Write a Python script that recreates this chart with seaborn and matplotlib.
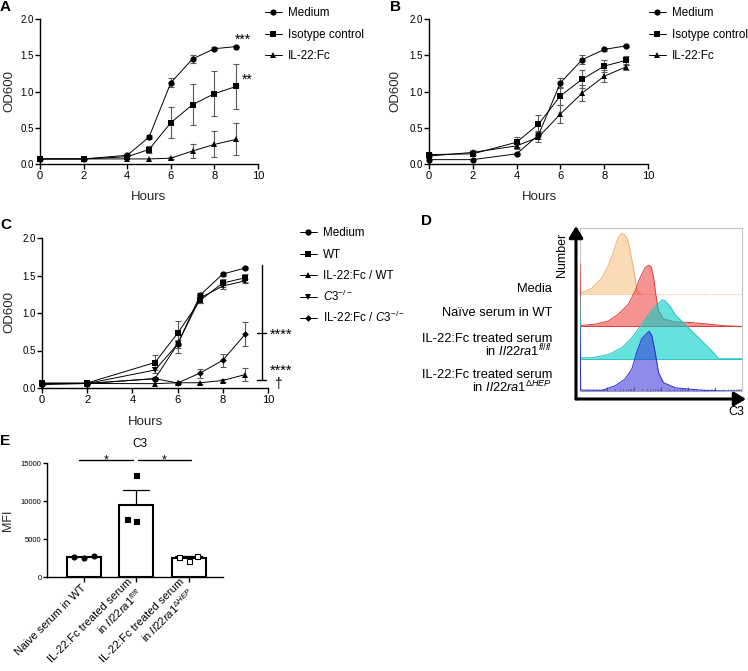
import numpy as np
import pandas as pd
import matplotlib
matplotlib.use("Agg")
import matplotlib.pyplot as plt
import matplotlib.transforms as mtransforms
from matplotlib.lines import Line2D
from matplotlib.patches import FancyArrowPatch
from matplotlib.ticker import FormatStrFormatter, FixedLocator
import seaborn as sns

W, H = 748, 671

# --- A / B: growth curves, mean and SEM ---
HOURS_AB = [0, 2, 4, 5, 6, 7, 8, 9]
AB_GROUPS = ["Medium", "Isotype control", "IL-22:Fc"]

A_MEDIUM = [0.07, 0.07, 0.12, 0.37, 1.12, 1.45, 1.59, 1.62]
A_MEDIUM_SEM = [0, 0, 0.01, 0.03, 0.06, 0.06, 0.02, 0.01]
A_ISOTYPE = [0.07, 0.07, 0.10, 0.20, 0.57, 0.82, 0.97, 1.07]
A_ISOTYPE_SEM = [0, 0, 0.02, 0.05, 0.21, 0.28, 0.31, 0.31]
A_IL22 = [0.07, 0.07, 0.07, 0.07, 0.08, 0.18, 0.27, 0.34]
A_IL22_SEM = [0, 0, 0, 0, 0.01, 0.10, 0.18, 0.22]

B_MEDIUM = [0.06, 0.06, 0.14, 0.40, 1.12, 1.44, 1.58, 1.63]
B_MEDIUM_SEM = [0, 0, 0.01, 0.05, 0.07, 0.06, 0.02, 0.01]
B_ISOTYPE = [0.13, 0.14, 0.30, 0.55, 0.94, 1.17, 1.35, 1.43]
B_ISOTYPE_SEM = [0.02, 0.02, 0.07, 0.12, 0.12, 0.12, 0.08, 0.06]
B_IL22 = [0.11, 0.16, 0.25, 0.37, 0.69, 0.98, 1.21, 1.34]
B_IL22_SEM = [0.01, 0.03, 0.04, 0.07, 0.12, 0.11, 0.08, 0.04]

# --- C ---
HOURS_C = [0, 2, 5, 6, 7, 8, 9]
C_GROUPS = ["Medium", "WT", "IL-22:Fc / WT", "C3-/-", "IL-22:Fc / C3-/-"]
C_LABELS = ["Medium", "WT", "IL-22:Fc / WT", r"$\mathit{C3}^{-/-}$", r"IL-22:Fc / $\mathit{C3}^{-/-}$"]
C_MEDIUM = [0.06, 0.06, 0.125, 0.585, 1.24, 1.52, 1.60]
C_MEDIUM_SEM = [0, 0, 0.01, 0.12, 0.03, 0.02, 0.01]
C_WT = [0.067, 0.067, 0.34, 0.73, 1.17, 1.40, 1.47]
C_WT_SEM = [0, 0, 0.10, 0.16, 0.03, 0.05, 0.05]
C_IL22_WT = [0.06, 0.06, 0.058, 0.07, 0.07, 0.10, 0.18]
C_IL22_WT_SEM = [0, 0, 0, 0.01, 0.01, 0.02, 0.09]
C_C3KO = [0.06, 0.06, 0.24, 0.585, 1.20, 1.36, 1.43]
C_C3KO_SEM = [0, 0, 0.04, 0.05, 0.07, 0.04, 0.03]
C_IL22_C3KO = [0.045, 0.06, 0.125, 0.067, 0.20, 0.37, 0.72]
C_IL22_C3KO_SEM = [0, 0, 0.02, 0.01, 0.06, 0.09, 0.16]
C_BRACKET = [1.64, 0.73, 0.11]

# --- D: offset C3 histograms (x as fraction of axis, height in lane units) ---
D_MEDIA_X = [0.0, 0.004, 0.072, 0.134, 0.175, 0.206, 0.237, 0.258, 0.278, 0.295, 0.309, 0.330, 0.346, 0.360, 0.380]
D_MEDIA_Y = [1.95, 0.03, 0.18, 0.49, 0.90, 1.31, 1.77, 1.88, 1.83, 1.67, 1.36, 0.80, 0.29, 0.03, 0.0]
D_NAIVE_X = [0.0, 0.004, 0.093, 0.175, 0.237, 0.299, 0.340, 0.371, 0.402, 0.423, 0.440, 0.454, 0.468,
             0.485, 0.515, 0.588, 0.690, 0.794, 0.897, 1.0]
D_NAIVE_Y = [1.95, 0.03, 0.07, 0.17, 0.38, 0.69, 1.10, 1.51, 1.82, 1.90, 1.84, 1.51, 0.99,
             0.48, 0.23, 0.14, 0.12, 0.07, 0.02, 0.0]
D_FLFL_X = [0.0, 0.004, 0.072, 0.175, 0.258, 0.320, 0.381, 0.423, 0.464, 0.495, 0.509, 0.526, 0.557,
            0.588, 0.649, 0.711, 0.773, 0.825, 0.856, 1.0]
D_FLFL_Y = [1.96, 0.03, 0.03, 0.13, 0.34, 0.65, 1.06, 1.36, 1.62, 1.77, 1.83, 1.79, 1.62,
            1.36, 1.06, 0.75, 0.44, 0.18, 0.0, 0.0]
D_DHEP_X = [0.0, 0.004, 0.134, 0.216, 0.278, 0.320, 0.350, 0.381, 0.412, 0.427, 0.443, 0.464, 0.485,
            0.515, 0.588, 0.690, 0.794, 1.0]
D_DHEP_Y = [1.98, 0.03, 0.02, 0.16, 0.37, 0.68, 1.20, 1.62, 1.78, 1.85, 1.72, 1.20, 0.57,
            0.26, 0.10, 0.05, 0.01, 0.0]

# --- E: C3 MFI, individual mice ---
E_GROUPS = ["naive_wt", "il22_flfl", "il22_dhep"]
E_NAIVE = [2500, 2750, 2600]
E_FLFL = [13400, 7350, 7600]
E_DHEP = [2150, 2750, 2650]
E_TICKS = ["Naive serum in WT",
           "IL-22:Fc treated serum\nin $\\mathit{Il22ra1}^{fl/fl}$",
           "IL-22:Fc treated serum\nin $\\mathit{Il22ra1}^{\\Delta HEP}$"]
E_SIG_LEVEL = 15400

sns.set_theme(style="ticks")
plt.rcParams["font.family"] = ["Liberation Sans", "DejaVu Sans"]
plt.rcParams.update({
    "mathtext.fontset": "custom",
    "mathtext.rm": "Liberation Sans",
    "mathtext.it": "Liberation Sans:italic",
    "mathtext.bf": "Liberation Sans:bold",
    "axes.linewidth": 1.0,
    "axes.edgecolor": "black",
    "xtick.color": "black", "ytick.color": "black", "text.color": "black",
    "xtick.major.width": 1.0, "ytick.major.width": 1.0,
    "xtick.major.size": 3.5, "ytick.major.size": 3.5,
    "xtick.major.pad": 1.5, "ytick.major.pad": 1.0,
})

fig = plt.figure(figsize=(W / 100, H / 100), dpi=100)
PX = mtransforms.Affine2D().scale(1 / W, -1 / H).translate(0, 1) + fig.transFigure


def px_axes(left, top, right, bottom):
    return fig.add_axes([left / W, 1 - bottom / H, (right - left) / W, (bottom - top) / H])


def place_labels(ax, xlab_xy, ylab_xy):
    ax.xaxis.set_label_coords(*xlab_xy, transform=PX)
    ax.yaxis.set_label_coords(*ylab_xy, transform=PX)
    ax.xaxis.label.set_va("center")
    ax.yaxis.label.set_va("center")


def key_legend(x0, rows, markers, labels, sizes):
    # GraphPad style key: short line with centred marker, then the label
    for yc, mk, lab, ms in zip(rows, markers, labels, sizes):
        fig.add_artist(Line2D([x0, x0 + 17], [yc, yc], transform=PX, color="black", lw=0.7))
        fig.add_artist(Line2D([x0 + 8.5], [yc], transform=PX, color="black", marker=mk, markersize=ms, mew=0))
        fig.text(x0 + 23, yc + 4.2, lab, transform=PX, ha="left", va="baseline", fontsize=8.4)


def growth_panel(box, hours, groups, means, sems, markers, sizes, xlab_xy, ylab_xy):
    ax = px_axes(*box)
    df = pd.DataFrame({"Hours": np.tile(hours, len(groups)),
                       "OD600": np.concatenate(means),
                       "group": np.repeat(groups, len(hours))})
    for mean, sem in zip(means, sems):
        h, m, s = np.array(hours), np.array(mean), np.array(sem)
        k = s > 0
        ax.errorbar(h[k], m[k], yerr=s[k], fmt="none", ecolor="#5a5a5a", elinewidth=0.8,
                    capsize=2.2, capthick=0.8, clip_on=False, zorder=2)
    sns.lineplot(data=df, x="Hours", y="OD600", hue="group", style="group",
                 hue_order=groups, style_order=groups, palette={g: "black" for g in groups},
                 markers=dict(zip(groups, markers)), dashes=False, errorbar=None,
                 markersize=4.5, markeredgewidth=0, linewidth=0.7, legend=False,
                 clip_on=False, zorder=3, ax=ax)
    for ln, ms in zip(ax.get_lines()[-len(groups):], sizes):
        ln.set_markersize(ms)
    ax.set(xlim=(0, 10), ylim=(0, 2), xticks=range(0, 11, 2), yticks=[0, 0.5, 1, 1.5, 2],
           xlabel="Hours", ylabel="OD600")
    ax.yaxis.set_major_formatter(FormatStrFormatter("%.1f"))
    ax.tick_params(axis="x", labelsize=8)
    ax.tick_params(axis="y", labelsize=7)
    ax.xaxis.label.set_size(9.5)
    ax.yaxis.label.set_size(9.5)
    place_labels(ax, xlab_xy, ylab_xy)
    sns.despine(ax=ax)
    return ax


AB_MARKERS = ["o", "s", "^"]
AB_SIZES = [4.5, 4.5, 4.5]

# A
ax_a = growth_panel((40, 19, 258, 164), HOURS_AB, AB_GROUPS,
                    [A_MEDIUM, A_ISOTYPE, A_IL22], [A_MEDIUM_SEM, A_ISOTYPE_SEM, A_IL22_SEM],
                    AB_MARKERS, AB_SIZES, (149, 197), (9, 91))
key_legend(265, [12, 33.5, 55], AB_MARKERS, AB_GROUPS, AB_SIZES)
ax_a.text(9.31, 1.66, "***", ha="center", va="baseline", fontsize=10)
ax_a.text(9.5, 1.10, "**", ha="center", va="baseline", fontsize=10)

# B
growth_panel((429, 19, 648, 164), HOURS_AB, AB_GROUPS,
             [B_MEDIUM, B_ISOTYPE, B_IL22], [B_MEDIUM_SEM, B_ISOTYPE_SEM, B_IL22_SEM],
             AB_MARKERS, AB_SIZES, (540, 197), (395, 91))
key_legend(649, [12, 33.5, 55], AB_MARKERS, AB_GROUPS, AB_SIZES)

# C
C_MARKERS = ["o", "s", "^", "v", "D"]
C_SIZES = [4.5, 4.5, 4.5, 4.5, 3.4]
ax_c = growth_panel((42, 238, 268, 388), HOURS_C, C_GROUPS,
                    [C_MEDIUM, C_WT, C_IL22_WT, C_C3KO, C_IL22_C3KO],
                    [C_MEDIUM_SEM, C_WT_SEM, C_IL22_WT_SEM, C_C3KO_SEM, C_IL22_C3KO_SEM],
                    C_MARKERS, C_SIZES, (146, 422), (9, 312))
key_legend(300, [232, 253.5, 275, 296.5, 318], C_MARKERS, C_LABELS, C_SIZES)
ax_c.plot([9.72, 9.72], [C_BRACKET[0], C_BRACKET[2]], color="black", lw=1.0, clip_on=False)
for lvl in C_BRACKET[1:]:
    ax_c.plot([9.5, 9.92], [lvl, lvl], color="black", lw=1.0, clip_on=False)
ax_c.text(10.57, 0.65, "****", ha="center", va="baseline", fontsize=10.5)
ax_c.text(10.57, 0.18, "****", ha="center", va="baseline", fontsize=10.5)
ax_c.text(10.44, 0.0, "†", ha="center", va="baseline", fontsize=10)

# D
ax_d = px_axes(580, 228, 742, 391)
lanes = [
    (D_MEDIA_X, D_MEDIA_Y, 3, "#f5b870", 0.5, "#f0b070", ":"),
    (D_NAIVE_X, D_NAIVE_Y, 2, "#ee3a3a", 0.55, "#e23b3b", "-"),
    (D_FLFL_X, D_FLFL_Y, 1, "#00d0c8", 0.6, "#27c4c0", "-"),
    (D_DHEP_X, D_DHEP_Y, 0, "#3030d8", 0.55, "#2a2ad0", "-"),
]
for i, (xs, ys, base, fill, alpha, edge, ls) in enumerate(lanes):
    xs = np.array(xs)
    top = base + np.array(ys)
    ax_d.fill_between(xs, base, top, color=fill, alpha=alpha, lw=0, zorder=2 + i)
    ax_d.plot(xs, top, color=edge, lw=0.7, zorder=2 + i)
    ax_d.axhline(base, color=edge, lw=0.7, ls=ls, zorder=2 + i)
ax_d.set_xlim(0, 1)
ax_d.set_ylim(0, 5.05)
ax_d.set_yticks([])
ax_d.xaxis.set_major_locator(FixedLocator(np.linspace(0, 1, 7)))
ax_d.xaxis.set_minor_locator(FixedLocator([d / 6 + np.log10(k) / 6 for d in range(6) for k in range(2, 10)]))
ax_d.tick_params(axis="x", which="both", direction="in", labelbottom=False, color="#555555")
ax_d.tick_params(axis="x", which="major", length=3, width=0.6)
ax_d.tick_params(axis="x", which="minor", length=1.5, width=0.5)
for s in ax_d.spines.values():
    s.set_color("#c4c4c4")
    s.set_linewidth(0.8)
for end in [(576, 226), (746, 399)]:
    fig.add_artist(FancyArrowPatch((576, 399), end, transform=PX, color="black", lw=2.2,
                                   arrowstyle="-|>,head_length=0.5,head_width=0.3",
                                   mutation_scale=14, shrinkA=0, shrinkB=0))
fig.text(562, 255, "Number", transform=PX, rotation=90, ha="center", va="center", fontsize=9)
fig.text(736, 412, "C3", transform=PX, ha="center", va="center", fontsize=9)
d_text = [("Media", 287), ("Naïve serum in WT", 312),
          ("IL-22:Fc treated serum", 337), (r"in $\mathit{Il22ra1}^{fl/fl}$", 352),
          ("IL-22:Fc treated serum", 373), (r"in $\mathit{Il22ra1}^{\Delta HEP}$", 388)]
for txt, yc in d_text:
    fig.text(552, yc + 4.5, txt, transform=PX, ha="right", va="baseline", fontsize=9.3)

# E
ax_e = px_axes(47, 463, 223, 577)
df_e = pd.DataFrame({"group": np.repeat(E_GROUPS, 3),
                     "MFI": np.concatenate([E_NAIVE, E_FLFL, E_DHEP])})
sns.barplot(data=df_e, x="group", y="MFI", order=E_GROUPS, errorbar="se", capsize=0.5,
            width=0.65, color="white", edgecolor="black", linewidth=1.5,
            err_kws={"color": "black", "linewidth": 0.9}, ax=ax_e)
for p in ax_e.patches:
    p.set_zorder(3)
for ln in ax_e.lines:
    ln.set_zorder(2)
point_styles = [(E_GROUPS[0], "o", "black"), (E_GROUPS[1], "s", "black"), (E_GROUPS[2], "s", "white")]
for g, mk, fc in point_styles:
    sns.swarmplot(data=df_e[df_e["group"] == g], x="group", y="MFI", order=E_GROUPS, marker=mk,
                  color=fc, edgecolor="black", linewidth=0.8, size=6.0, zorder=4, ax=ax_e)
# keep the wide swarm spacing but draw smaller symbols
for coll in ax_e.collections:
    coll.set_paths([pth.transformed(mtransforms.Affine2D().scale(0.6)) for pth in coll.get_paths()])
ax_e.set_xlim(-0.71, 2.66)
ax_e.set_ylim(0, 15000)
ax_e.set_yticks([0, 5000, 10000, 15000])
ax_e.set_xticks([0, 1, 2])
ax_e.set_xticklabels(E_TICKS, rotation=45, ha="right", va="center", rotation_mode="anchor",
                     fontsize=8.1, multialignment="right", linespacing=1.2)
ax_e.tick_params(axis="y", labelsize=5.5, length=3)
ax_e.tick_params(axis="x", length=3.5, pad=3)
ax_e.set_xlabel("")
ax_e.set_ylabel("MFI", fontsize=9)
ax_e.yaxis.set_label_coords(8, 520, transform=PX)
ax_e.yaxis.label.set_va("center")
sns.despine(ax=ax_e)
for (i, j) in [(0, 1), (1, 2)]:
    ax_e.plot([i - 0.1 + (0.14 if i else 0), j - 0.06 + (0.1 if i else 0)], [E_SIG_LEVEL] * 2,
              color="black", lw=1.0, clip_on=False)
    ax_e.text((i + j) / 2 + (0.04 if i else -0.08), 14900, "*", ha="center", va="baseline", fontsize=9)
fig.text(140, 444, "C3", transform=PX, ha="center", va="center", fontsize=8.5)

# panel letters
for letter, (x, y) in {"A": (0, 0), "B": (390, 0), "C": (0, 218), "D": (421, 214), "E": (0, 434)}.items():
    fig.text(x, y, letter, transform=PX, ha="left", va="top", fontsize=11, fontweight="bold")

fig.savefig("out.png", dpi=100)
